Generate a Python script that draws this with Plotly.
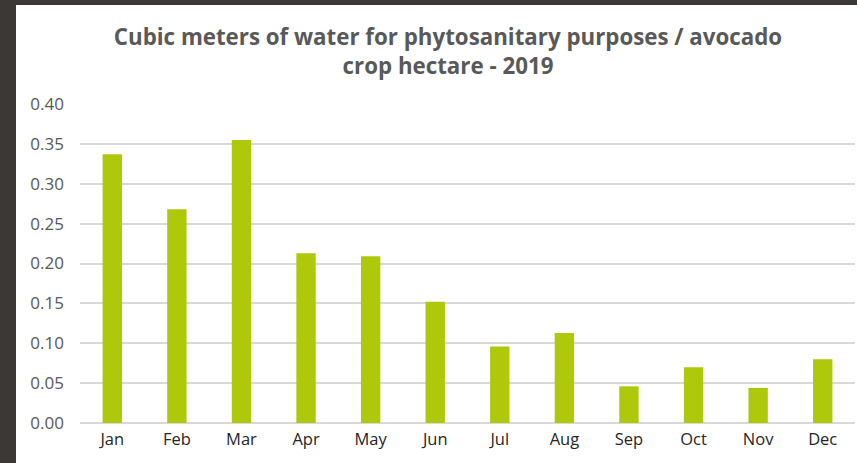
import plotly.graph_objects as go

# Monthly water use for phytosanitary purposes (m³ per avocado hectare)
months = ["Jan", "Feb", "Mar", "Apr", "May", "Jun",
          "Jul", "Aug", "Sep", "Oct", "Nov", "Dec"]
water_m3 = [0.337, 0.268, 0.355, 0.213, 0.209, 0.152,
            0.096, 0.113, 0.046, 0.070, 0.044, 0.080]
y_ticks = [0.00, 0.05, 0.10, 0.15, 0.20, 0.25, 0.30, 0.35, 0.40]

W, H = 857, 463
L, R, T, B = 80, 2, 104, 40
pw, ph = W - L - R, H - T - B

def px_x(p):
    return (p - L) / pw

def px_y(p):
    return (H - B - p) / ph

fig = go.Figure(go.Bar(
    x=months, y=water_m3,
    marker=dict(color="#aec90c", line=dict(width=0)),
    width=0.3,
))

frame = "#3b3835"
fig.update_layout(
    width=W, height=H,
    margin=dict(l=L, r=R, t=T, b=B),
    paper_bgcolor=frame, plot_bgcolor="rgba(0,0,0,0)",
    showlegend=False,
    title=dict(
        text="Cubic meters of water for phytosanitary purposes / avocado<br>crop hectare - 2019",
        x=448 / W, xanchor="center",
        y=1 - 45 / H, yanchor="top",
        font=dict(family="Open Sans", size=22.3, color="#595959", weight="bold"),
    ),
    xaxis=dict(
        showgrid=False, showline=False, zeroline=False, ticks="",
        tickfont=dict(family="Open Sans", size=16.5, color="#262626"),
        ticklabelstandoff=4,
    ),
    yaxis=dict(
        range=[0, 0.40], tickvals=y_ticks, tickformat=".2f",
        showgrid=True, gridcolor="#d9d9d9", gridwidth=1.5,
        zeroline=True, zerolinecolor="#d9d9d9", zerolinewidth=1.5,
        showline=False, ticks="",
        tickfont=dict(family="Open Sans", size=17, color="#595959"),
        ticklabelstandoff=15,
    ),
    shapes=[
        # white card inside the stone frame
        dict(type="rect", xref="paper", yref="paper", layer="below",
             x0=px_x(16), x1=px_x(W + 2), y0=px_y(H + 2), y1=px_y(5),
             fillcolor="white", line=dict(width=0)),
        # stone band along the top edge
        dict(type="rect", xref="paper", yref="paper", layer="above",
             x0=px_x(0), x1=px_x(W), y0=px_y(5), y1=px_y(-1),
             fillcolor=frame, line=dict(width=0)),
    ],
)

fig.write_html("out.html")
